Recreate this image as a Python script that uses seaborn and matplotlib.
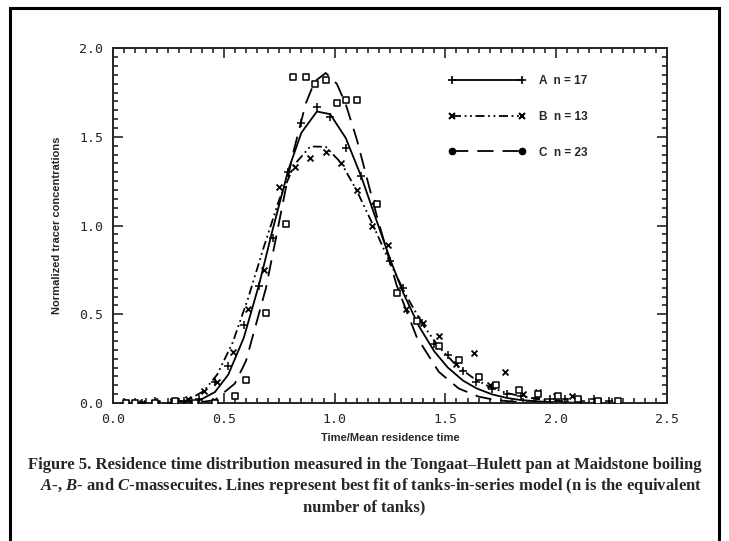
import seaborn as sns
import matplotlib.pyplot as plt
import matplotlib.patches as mpatches
from matplotlib.lines import Line2D
from matplotlib.ticker import MultipleLocator

# A-massecuite, n = 17
t_A = [0.06, 0.13, 0.19, 0.26, 0.32, 0.39, 0.46, 0.52, 0.59, 0.66, 0.72, 0.79, 0.85, 0.92,
       0.98, 1.05, 1.12, 1.18, 1.25, 1.31, 1.38, 1.45, 1.51, 1.58, 1.64, 1.71, 1.78, 1.84,
       1.91, 1.97, 2.04, 2.11, 2.17, 2.24]
obs_A = [0.0, 0.0, 0.01, 0.0, 0.01, 0.02, 0.12, 0.21, 0.44, 0.66, 0.93, 1.30, 1.58, 1.67,
         1.61, 1.435, 1.28, 1.12, 0.80, 0.65, 0.47, 0.33, 0.27, 0.18, 0.12, 0.08, 0.05, 0.04,
         0.03, 0.02, 0.02, 0.01, 0.02, 0.01]
fit_A = [0.0, 0.0, 0.0, 0.0, 0.002, 0.015, 0.062, 0.160, 0.367, 0.672, 0.975, 1.309, 1.523, 1.643,
         1.628, 1.494, 1.277, 1.061, 0.812, 0.620, 0.434, 0.291, 0.201, 0.126, 0.083, 0.049, 0.028, 0.017,
         0.010, 0.006, 0.003, 0.002, 0.001, 0.001]

# B-massecuite, n = 13
t_B = [0.06, 0.13, 0.20, 0.27, 0.34, 0.41, 0.47, 0.54, 0.61, 0.68, 0.75, 0.82, 0.89, 0.96,
       1.03, 1.10, 1.17, 1.24, 1.32, 1.40, 1.47, 1.55, 1.63, 1.70, 1.77, 1.85, 1.92, 2.00, 2.07]
obs_B = [0.0, 0.0, 0.0, 0.01, 0.02, 0.07, 0.12, 0.29, 0.53, 0.75, 1.22, 1.33, 1.38, 1.415,
         1.355, 1.20, 1.00, 0.89, 0.53, 0.45, 0.38, 0.22, 0.28, 0.10, 0.175, 0.05, 0.06, 0.04, 0.04]
fit_B = [0.0, 0.0, 0.0, 0.003, 0.018, 0.068, 0.160, 0.341, 0.592, 0.877, 1.146, 1.346, 1.446, 1.444,
         1.353, 1.197, 1.012, 0.818, 0.612, 0.438, 0.317, 0.211, 0.137, 0.091, 0.059, 0.036, 0.022, 0.013, 0.008]

# C-massecuite, n = 23
t_C = [0.06, 0.10, 0.19, 0.28, 0.37, 0.46, 0.55, 0.60, 0.69, 0.78, 0.81, 0.87, 0.91, 0.96,
       1.01, 1.05, 1.10, 1.19, 1.28, 1.37, 1.47, 1.56, 1.65, 1.73, 1.83, 1.92, 2.01, 2.10, 2.19, 2.28]
obs_C = [0.0, 0.0, 0.0, 0.01, 0.0, 0.0, 0.04, 0.13, 0.51, 1.01, 1.84, 1.84, 1.80, 1.82,
         1.69, 1.71, 1.71, 1.12, 0.62, 0.46, 0.32, 0.24, 0.145, 0.10, 0.075, 0.05, 0.04, 0.02, 0.01, 0.01]
fit_C = [0.0, 0.0, 0.0, 0.0, 0.0, 0.017, 0.110, 0.237, 0.647, 1.211, 1.395, 1.689, 1.812, 1.86,
         1.799, 1.685, 1.486, 1.056, 0.663, 0.373, 0.176, 0.082, 0.036, 0.016, 0.006, 0.002, 0.0, 0.0, 0.0, 0.0]

labels = ["A  n = 17", "B  n = 13", "C  n = 23"]
x_ticks = [0.0, 0.5, 1.0, 1.5, 2.0, 2.5]
y_ticks = [0.0, 0.5, 1.0, 1.5, 2.0]

sns.set_style("ticks")
plt.rcParams['mathtext.fontset'] = 'custom'
plt.rcParams['mathtext.rm'] = 'Liberation Serif:bold'
plt.rcParams['mathtext.it'] = 'Liberation Serif:italic:bold'

fig = plt.figure(figsize=(7.29, 5.41), dpi=100)
ax = fig.add_axes([0.155, 0.255, 0.760, 0.656])

lw = 1.3
sns.lineplot(x=t_A, y=fit_A, ax=ax, color='black', lw=lw, sort=False, estimator=None)
sns.lineplot(x=t_B, y=fit_B, ax=ax, color='black', lw=lw, sort=False, estimator=None,
             linestyle=(0, (5, 2, 1, 2, 1, 2)))
sns.lineplot(x=t_C, y=fit_C, ax=ax, color='black', lw=lw, sort=False, estimator=None,
             linestyle=(0, (9, 5)))

sns.scatterplot(x=t_A, y=obs_A, ax=ax, marker='+', color='black', s=30, linewidth=1.1, zorder=3)
sns.scatterplot(x=t_B, y=obs_B, ax=ax, marker='x', color='black', s=18, linewidth=1.3, zorder=3)
sns.scatterplot(x=t_C, y=obs_C, ax=ax, marker='s', facecolor='white', edgecolor='black',
                s=14, linewidth=1.1, zorder=3)

ax.set_xlim(0, 2.5)
ax.set_ylim(0, 2.0)
ax.set_xticks(x_ticks)
ax.set_yticks(y_ticks)
ax.set_xticklabels([f"{v:.1f}" for v in x_ticks])
ax.set_yticklabels([f"{v:.1f}" for v in y_ticks])
ax.xaxis.set_minor_locator(MultipleLocator(0.05))
ax.yaxis.set_minor_locator(MultipleLocator(0.05))
ax.tick_params(which='both', direction='in', top=True, right=True, width=1.2)
ax.tick_params(which='major', length=7, pad=7, labelsize=9.5)
ax.tick_params(which='minor', length=3.5)
for lab in ax.get_xticklabels() + ax.get_yticklabels():
    lab.set_family('DejaVu Sans Mono')
for sp in ax.spines.values():
    sp.set_linewidth(1.4)

ax.set_xlabel("Time/Mean residence time", fontsize=8, fontweight='bold', family='Liberation Sans')
ax.set_ylabel("Normalized tracer concentrations", fontsize=8, fontweight='bold', family='Liberation Sans')
ax.xaxis.set_label_coords(0.5, -0.085)
ax.yaxis.set_label_coords(-0.092, 0.5)

handles = [
    Line2D([0], [0], color='black', lw=lw, marker='+', ms=6, mew=1.2),
    Line2D([0], [0], color='black', lw=lw, linestyle=(0, (5, 2, 1, 2, 1, 2)), marker='x', ms=4, mew=1.5),
    Line2D([0], [0], color='black', lw=lw, linestyle=(0, (9, 5)), marker='o', ms=4.5),
]
leg = ax.legend(handles, labels, loc='upper left', bbox_to_anchor=(0.595, 0.94), frameon=False,
                numpoints=2, handlelength=6.5, handletextpad=1.2, labelspacing=2.0, borderpad=0,
                prop={'family': 'Liberation Sans', 'weight': 'bold', 'size': 8.5})

cap = dict(fontsize=12, fontweight='bold', family='Liberation Serif')
fig.text(0.038, 1 - 465 / 541, "Figure 5. Residence time distribution measured in the Tongaat\u2013Hulett pan at Maidstone boiling",
         va='center', ha='left', **cap)
fig.text(0.055, 1 - 486 / 541, r"$A$-, $B$- and $C$-massecuites. Lines represent best fit of tanks-in-series model (n is the equivalent",
         va='center', ha='left', **cap)
fig.text(0.5, 1 - 507 / 541, "number of tanks)", va='center', ha='center', **cap)

fig.patches.append(mpatches.Rectangle((10 / 729, -0.05), 709 / 729, 1.05 - 8 / 541, transform=fig.transFigure,
                                      fill=False, edgecolor='black', linewidth=2.2, clip_on=False))

fig.savefig("out.png", dpi=100)
